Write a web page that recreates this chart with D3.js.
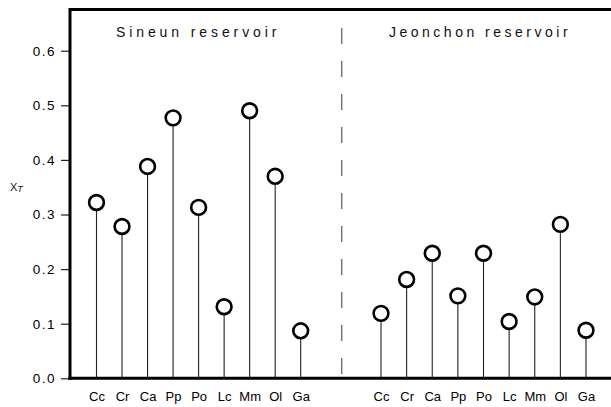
<!DOCTYPE html>
<html>
<head>
<meta charset="utf-8">
<script src="https://cdn.jsdelivr.net/npm/d3@7"></script>
<style>
  body { margin: 0; background: #fff; }
  svg { display: block; font-family: "Liberation Sans", Arial, sans-serif; }
</style>
</head>
<body>
<div id="chart"></div>
<script>
// species codes, same order in both panels
const species = ['Cc','Cr','Ca','Pp','Po','Lc','Mm','Ol','Ga'];
const sineun   = [0.322, 0.278, 0.388, 0.477, 0.313, 0.131, 0.490, 0.370, 0.087];
const jeonchon = [0.119, 0.181, 0.229, 0.151, 0.229, 0.104, 0.149, 0.282, 0.088];
const yTicks = [0, 0.1, 0.2, 0.3, 0.4, 0.5, 0.6];
const panelTitles = ['Sineun reservoir', 'Jeonchon reservoir'];

(function(){
  const W = 611, H = 407;
  const axisX = 70, topY = 9.5;
  const svg = d3.select('#chart').append('svg').attr('width', W).attr('height', H);

  const y = d3.scaleLinear().domain([0, 0.6]).range([378.3, 50.7]);
  const xLeft = d3.scalePoint().domain(species).range([96.5, 300.7]);
  const xRight = d3.scalePoint().domain(species).range([381, 586]);
  const dividerX = 341.7;

  // y axis ticks + labels (frame lines drawn separately, thicker)
  const yAxis = d3.axisLeft(y).tickValues(yTicks).tickSize(9).tickPadding(5).tickFormat(d3.format('.1f'));
  const gy = svg.append('g').attr('transform', `translate(${axisX},0)`).call(yAxis);
  gy.select('.domain').remove();
  gy.selectAll('.tick line').attr('stroke', '#222').attr('stroke-width', 1.2);
  gy.selectAll('.tick text').attr('font-size', 13.5).attr('letter-spacing', 1.5).attr('fill', '#000');

  // y title X_T
  const yl = svg.append('text').attr('x', 10).attr('y', 191).attr('font-size', 11).attr('fill', '#111');
  yl.append('tspan').text('X');
  yl.append('tspan').attr('font-style', 'italic').attr('font-size', 9).attr('dy', 1).text('T');

  // frame: left, top, bottom
  svg.append('line').attr('x1', axisX).attr('x2', axisX).attr('y1', topY - 1.5).attr('y2', y(0) + 1.5)
    .attr('stroke', '#000').attr('stroke-width', 3);
  svg.append('line').attr('x1', axisX).attr('x2', W).attr('y1', topY).attr('y2', topY)
    .attr('stroke', '#000').attr('stroke-width', 3);

  // dashed divider between the two reservoirs
  svg.append('line').attr('x1', dividerX).attr('x2', dividerX).attr('y1', 28).attr('y2', y(0))
    .attr('stroke', '#777').attr('stroke-width', 1.5).attr('stroke-dasharray', '16,17');

  // panel titles
  svg.append('text').attr('x', 116).attr('y', 37).attr('font-size', 14).attr('letter-spacing', 3.9)
    .attr('fill', '#111').text(panelTitles[0]);
  svg.append('text').attr('x', 389).attr('y', 37).attr('font-size', 14).attr('letter-spacing', 3.5)
    .attr('fill', '#111').text(panelTitles[1]);

  const r = 7.4;
  function drawPanel(vals, x){
    const data = species.map((s, i) => ({s, v: vals[i]}));
    const g = svg.append('g');
    g.selectAll('line.stem').data(data).join('line').attr('class', 'stem')
      .attr('x1', d => x(d.s)).attr('x2', d => x(d.s))
      .attr('y1', y(0)).attr('y2', d => y(d.v) + r)
      .attr('stroke', '#222').attr('stroke-width', 1.1);
    g.selectAll('circle').data(data).join('circle')
      .attr('cx', d => x(d.s)).attr('cy', d => y(d.v)).attr('r', r)
      .attr('fill', '#fff').attr('stroke', '#000').attr('stroke-width', 2.6);
    const gx = svg.append('g').attr('transform', `translate(0,${y(0)})`)
      .call(d3.axisBottom(x).tickSize(0).tickPadding(13));
    gx.select('.domain').remove();
    gx.selectAll('.tick text').attr('font-size', 13).attr('fill', '#000');
  }
  drawPanel(sineun, xLeft);
  drawPanel(jeonchon, xRight);

  // bottom axis line on top of stems
  svg.append('line').attr('x1', axisX - 1.5).attr('x2', W).attr('y1', y(0)).attr('y2', y(0))
    .attr('stroke', '#000').attr('stroke-width', 3);
})();
</script>
</body>
</html>
